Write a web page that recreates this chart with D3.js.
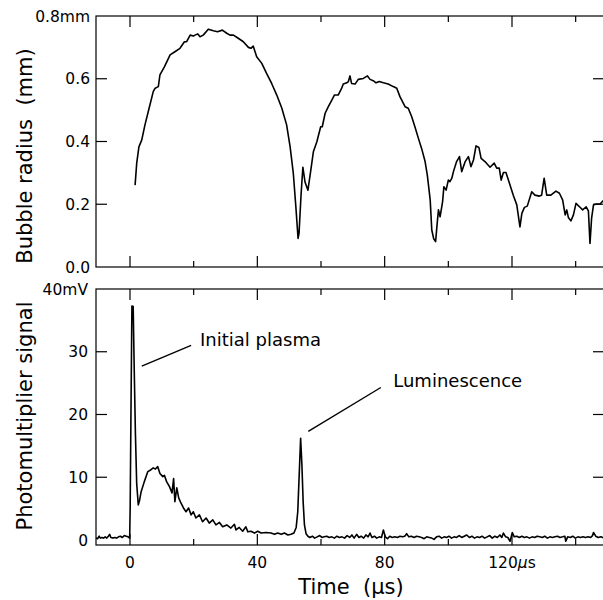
<!DOCTYPE html>
<html>
<head>
<meta charset="utf-8">
<script src="https://cdn.jsdelivr.net/npm/d3@7"></script>
<style>
  html, body { margin: 0; padding: 0; background: #fff; }
  svg { display: block; font-family: "DejaVu Sans", sans-serif; }
  .frame { fill: none; stroke: #000; stroke-width: 1.2; }
  .tick { stroke: #000; stroke-width: 1.2; }
  .trace { fill: none; stroke: #000; stroke-width: 1.6; stroke-linejoin: round; }
  .lbl { font-size: 15.5px; fill: #000; }
  .title { font-size: 21px; fill: #000; white-space: pre; }
  .note { font-size: 18px; fill: #000; }
  .leader { stroke: #000; stroke-width: 1.4; }
</style>
</head>
<body>
<svg id="chart"></svg>
<script>
const width = 603;
const height = 600;

// Time axis (us)
const timeMajor = [0, 40, 80, 120];
const timeMinor = [20, 60, 100, 140];
const timeLabels = ["0", "40", "80", "120"];

// Bubble radius panel (mm)
const radiusTicks = [0, 0.2, 0.4, 0.6, 0.8];
const radiusLabels = ["0.0", "0.2", "0.4", "0.6", "0.8mm"];
const bubbleRadius = [
  [1.6,0.261],[2.1,0.33],[2.8,0.383],[3.7,0.405],[4.7,0.453],[6.0,0.506],[7.3,0.559],[7.9,0.57],[8.9,0.575],[9.4,0.612],
  [10.8,0.638],[12.6,0.676],[14.1,0.686],[15.7,0.697],[17.1,0.718],[17.8,0.718],[18.9,0.739],[19.9,0.736],[20.4,0.739],[21.3,0.743],
  [22.0,0.734],[23.0,0.739],[24.6,0.758],[26.2,0.753],[27.5,0.750],[29.0,0.755],[30.4,0.745],[31.4,0.739],[32.5,0.739],[34.0,0.729],
  [35.6,0.718],[37.2,0.700],[38.0,0.697],[38.7,0.704],[39.8,0.670],[41.4,0.649],[42.9,0.617],[44.5,0.585],[46.1,0.548],[47.7,0.506],
  [49.2,0.453],[50.3,0.383],[51.3,0.299],[52.1,0.192],[52.8,0.091],[53.1,0.107],[53.7,0.224],[54.3,0.318],[55.0,0.270],[55.9,0.245],
  [56.8,0.309],[57.6,0.367],[58.7,0.399],[59.9,0.447],[60.4,0.447],[61.3,0.490],[62.3,0.511],[63.4,0.532],[64.2,0.548],[65.4,0.548],
  [66.5,0.570],[67.0,0.583],[68.1,0.587],[68.6,0.591],[69.1,0.609],[69.6,0.585],[70.7,0.583],[71.7,0.598],[73.3,0.601],[74.6,0.609],
  [75.4,0.598],[76.4,0.594],[77.3,0.587],[78.3,0.591],[79.6,0.587],[81.1,0.583],[82.7,0.575],[83.8,0.570],[84.8,0.543],[86.4,0.511],
  [87.4,0.506],[88.5,0.479],[89.5,0.447],[90.6,0.410],[91.6,0.378],[92.7,0.336],[93.4,0.293],[94.3,0.214],[94.8,0.118],[95.4,0.090],
  [96.0,0.081],[96.6,0.150],[96.9,0.182],[97.4,0.160],[98.2,0.208],[98.6,0.256],[99.3,0.245],[100.0,0.277],[100.5,0.272],[101.1,0.283],
  [101.6,0.304],[102.6,0.336],[103.5,0.352],[104.2,0.304],[105.3,0.336],[106.3,0.352],[107.1,0.320],[107.9,0.341],[108.7,0.386],[109.6,0.381],
  [110.3,0.346],[111.5,0.336],[113.1,0.318],[114.4,0.331],[115.2,0.315],[116.0,0.315],[116.6,0.277],[117.3,0.301],[118.1,0.301],[119.2,0.267],
  [120.4,0.229],[121.5,0.198],[122.5,0.128],[123.1,0.171],[123.9,0.190],[124.8,0.194],[126.2,0.240],[127.2,0.229],[128.6,0.226],[129.3,0.229],
  [130.1,0.283],[130.9,0.229],[132.2,0.229],[133.8,0.242],[134.9,0.235],[135.9,0.214],[136.7,0.166],[137.2,0.182],[137.7,0.158],[138.5,0.147],
  [139.3,0.166],[140.1,0.203],[141.2,0.192],[142.2,0.182],[143.3,0.192],[144.0,0.179],[144.5,0.075],[145.0,0.155],[145.6,0.198],[146.4,0.201],
  [147.7,0.201],[148.5,0.210],[149.0,0.212]
];

// Photomultiplier panel (mV)
const signalTicks = [0, 10, 20, 30, 40];
const signalLabels = ["0", "10", "20", "30", "40mV"];
const pmSignal = [
  [-10.7,0.3],[-10.2,0.2],[-9.7,0.6],[-9.3,0.3],[-8.8,0.4],[-8.3,0.3],[-7.8,0.5],[-7.3,0.3],[-6.8,0.6],[-6.4,0.9],
  [-6.0,0.4],[-5.4,0.3],[-4.8,0.4],[-4.2,0.3],[-3.6,0.5],[-3.0,0.6],[-2.4,0.4],[-1.8,0.7],[-1.2,0.6],[-0.6,0.5],[-0.1,0.3],
  [0.05,5],[0.3,20],[0.6,37.3],[1.0,37.2],[1.3,28],[1.7,17],[2.1,9],[2.6,5.6],[3.0,6.3],[3.5,7.7],[4.5,9.3],[5.6,10.9],
  [6.6,11.2],[7.3,11.5],[8.0,11.3],[8.7,11.7],[9.4,10.6],[10.3,10.1],[10.8,10.3],[11.5,9.3],[12.4,8.5],[13.2,7.5],[13.7,9.8],
  [14.1,6.1],[14.7,8.3],[15.3,6.7],[16.0,5.9],[16.8,5.1],[17.6,4.5],[18.4,5.1],[19.2,4.0],[19.9,4.5],[20.7,3.5],[21.8,4.0],
  [22.8,2.9],[23.9,3.5],[24.9,2.7],[26.0,3.2],[27.0,2.4],[28.1,2.8],[29.1,2.1],[30.4,2.4],[31.7,1.9],[32.8,2.5],[33.3,1.6],
  [34.3,2.0],[35.4,1.4],[36.4,2.1],[37.0,1.3],[38.0,1.4],[39.1,1.1],[40.1,1.4],[41.2,1.1],[42.7,1.2],[44.3,1.1],[45.4,0.9],
  [46.4,1.1],[47.5,0.9],[48.5,1.1],[49.6,0.8],[50.6,0.9],[51.5,1.1],[52.2,2.0],[52.7,4.5],[53.2,11],[53.6,16.2],[54.0,12],
  [54.4,6],[54.8,2.4],[55.3,1.0],[55.9,0.6],
  [56.5,0.4],[57.3,0.6],[58.0,0.3],[58.8,0.5],[59.6,0.7],[60.3,0.4],[61.0,0.5],[61.8,0.6],[62.6,0.4],[63.4,0.5],
  [64.2,0.3],[65.0,0.6],[65.8,0.4],[66.6,0.5],[67.4,0.3],[68.2,0.7],[69.0,0.4],[69.7,0.8],[70.4,0.3],[71.2,0.9],
  [71.9,0.4],[72.6,0.6],[73.4,0.3],[74.1,0.8],[74.8,0.5],[75.4,1.1],[76.0,0.4],[76.8,0.6],[77.5,0.3],[78.3,0.5],
  [79.0,0.4],[79.6,1.6],[80.2,0.5],[80.9,0.2],[81.6,0.6],[82.4,0.4],[83.2,0.5],[84.0,0.4],[84.8,0.6],[85.6,0.5],
  [86.3,0.6],[86.9,1.0],[87.6,0.5],[88.4,0.6],[89.2,0.4],[90.0,0.6],[90.8,0.5],[91.6,0.4],[92.4,0.2],[93.2,0.5],
  [94.0,0.4],[94.8,0.3],[95.5,0.1],[96.3,0.5],[97.1,0.6],[97.9,0.3],[98.7,0.5],[99.4,0.4],[100.2,0.6],[101.0,0.3],
  [101.8,0.5],[102.6,0.4],[103.4,0.7],[104.2,0.4],[105.0,0.6],[105.8,0.8],[106.6,0.4],[107.4,0.6],[108.2,0.3],[109.0,0.5],
  [109.8,0.4],[110.6,0.6],[111.4,0.3],[112.2,0.5],[113.0,0.7],[113.8,0.3],[114.6,0.6],[115.4,0.4],[116.2,0.8],[116.8,0.4],
  [117.3,1.1],[118.0,0.5],[118.7,0.4],[119.4,-0.2],[120.1,1.2],[120.7,0.5],[121.5,0.6],[122.3,0.4],[123.1,0.6],[123.9,0.4],
  [124.7,0.5],[125.5,0.3],[126.3,0.5],[127.1,0.4],[127.9,0.6],[128.7,0.5],[129.5,0.4],[130.3,0.6],[131.1,0.3],[131.9,0.5],
  [132.7,0.4],[133.5,0.5],[134.3,0.6],[135.1,0.4],[135.9,0.5],[136.6,0.6],[136.9,-0.2],[137.5,0.5],[138.3,0.4],[139.1,0.6],
  [139.9,0.3],[140.7,0.5],[141.5,0.4],[142.3,0.5],[143.1,0.4],[143.9,0.5],[144.7,0.4],[145.3,0.7],[145.6,1.2],[146.3,0.6],
  [147.1,0.4],[147.9,0.5],[148.9,0.3]
];

// annotations: text, text anchor point, leader start, leader end (data units)
const notes = [
  { text: "Initial plasma", at: [22.0, 30.9], from: [3.7, 27.7], to: [19.2, 31.0] },
  { text: "Luminescence", at: [82.7, 24.4], from: [56.0, 17.3], to: [78.8, 24.3] }
];

const left = 96, right = 604;
const x = d3.scaleLinear().domain([-10.68, 148.9]).range([left, right]);
const yTop = d3.scaleLinear().domain([0, 0.8]).range([267, 16]);
const yBot = d3.scaleLinear().domain([-0.8, 40]).range([545, 289]);

const svg = d3.select("#chart")
    .attr("width", width)
    .attr("height", height);

const defs = svg.append("defs");

function drawPanel(name, y, yTicks, yLabels, labelX, series, title, titleY) {
    const g = svg.append("g");
    const [y0, y1] = y.range();

    defs.append("clipPath").attr("id", "clip-" + name)
        .append("rect")
        .attr("x", left).attr("y", y1)
        .attr("width", right - left).attr("height", y0 - y1);

    g.append("rect")
        .attr("class", "frame")
        .attr("x", left).attr("y", y1)
        .attr("width", right - left).attr("height", y0 - y1);

    // inward ticks on all four sides
    const xt = timeMajor.map(v => ({ v, len: 11 })).concat(timeMinor.map(v => ({ v, len: 6 })));
    g.selectAll(".xtb").data(xt).join("line")
        .attr("class", "tick")
        .attr("x1", d => x(d.v)).attr("x2", d => x(d.v))
        .attr("y1", y0).attr("y2", d => y0 - d.len);
    g.selectAll(".xtt").data(xt).join("line")
        .attr("class", "tick")
        .attr("x1", d => x(d.v)).attr("x2", d => x(d.v))
        .attr("y1", y1).attr("y2", d => y1 + d.len);

    const inner = yTicks.slice(1, -1);
    g.selectAll(".ytl").data(inner).join("line")
        .attr("class", "tick")
        .attr("x1", left).attr("x2", left + 11)
        .attr("y1", d => y(d)).attr("y2", d => y(d));
    g.selectAll(".ytr").data(inner).join("line")
        .attr("class", "tick")
        .attr("x1", right).attr("x2", right - 11)
        .attr("y1", d => y(d)).attr("y2", d => y(d));

    g.selectAll(".ylbl").data(yTicks).join("text")
        .attr("class", "lbl")
        .attr("x", labelX)
        .attr("y", d => y(d))
        .attr("dy", "0.36em")
        .attr("text-anchor", "end")
        .text((d, i) => yLabels[i]);

    const line = d3.line().x(d => x(d[0])).y(d => y(d[1]));
    g.append("path")
        .datum(series)
        .attr("class", "trace")
        .attr("clip-path", "url(#clip-" + name + ")")
        .attr("d", line);

    svg.append("text")
        .attr("class", "title")
        .attr("transform", `translate(32,${titleY}) rotate(-90)`)
        .attr("text-anchor", "middle")
        .text(title);
    return g;
}

drawPanel("top", yTop, radiusTicks, radiusLabels, 90, bubbleRadius, "Bubble radius  (mm)", 156);
const bottom = drawPanel("bot", yBot, signalTicks, signalLabels, 88, pmSignal, "Photomultiplier signal", 416);

// annotations
bottom.selectAll(".leader").data(notes).join("line")
    .attr("class", "leader")
    .attr("x1", d => x(d.from[0])).attr("y1", d => yBot(d.from[1]))
    .attr("x2", d => x(d.to[0])).attr("y2", d => yBot(d.to[1]));
bottom.selectAll(".note").data(notes).join("text")
    .attr("class", "note")
    .attr("x", d => x(d.at[0])).attr("y", d => yBot(d.at[1]))
    .text(d => d.text);

// time tick labels
const tl = svg.selectAll(".xlbl").data(timeMajor).join("text")
    .attr("class", "lbl")
    .attr("x", d => x(d))
    .attr("y", 568)
    .attr("text-anchor", "middle");
tl.append("tspan").text((d, i) => timeLabels[i]);
tl.filter(d => d === 120).append("tspan").attr("font-style", "italic").text("\u03bc");
tl.filter(d => d === 120).append("tspan").text("s");

svg.append("text")
    .attr("class", "title")
    .attr("x", 351)
    .attr("y", 594)
    .attr("text-anchor", "middle")
    .text("Time  (\u03bcs)");
</script>
</body>
</html>
